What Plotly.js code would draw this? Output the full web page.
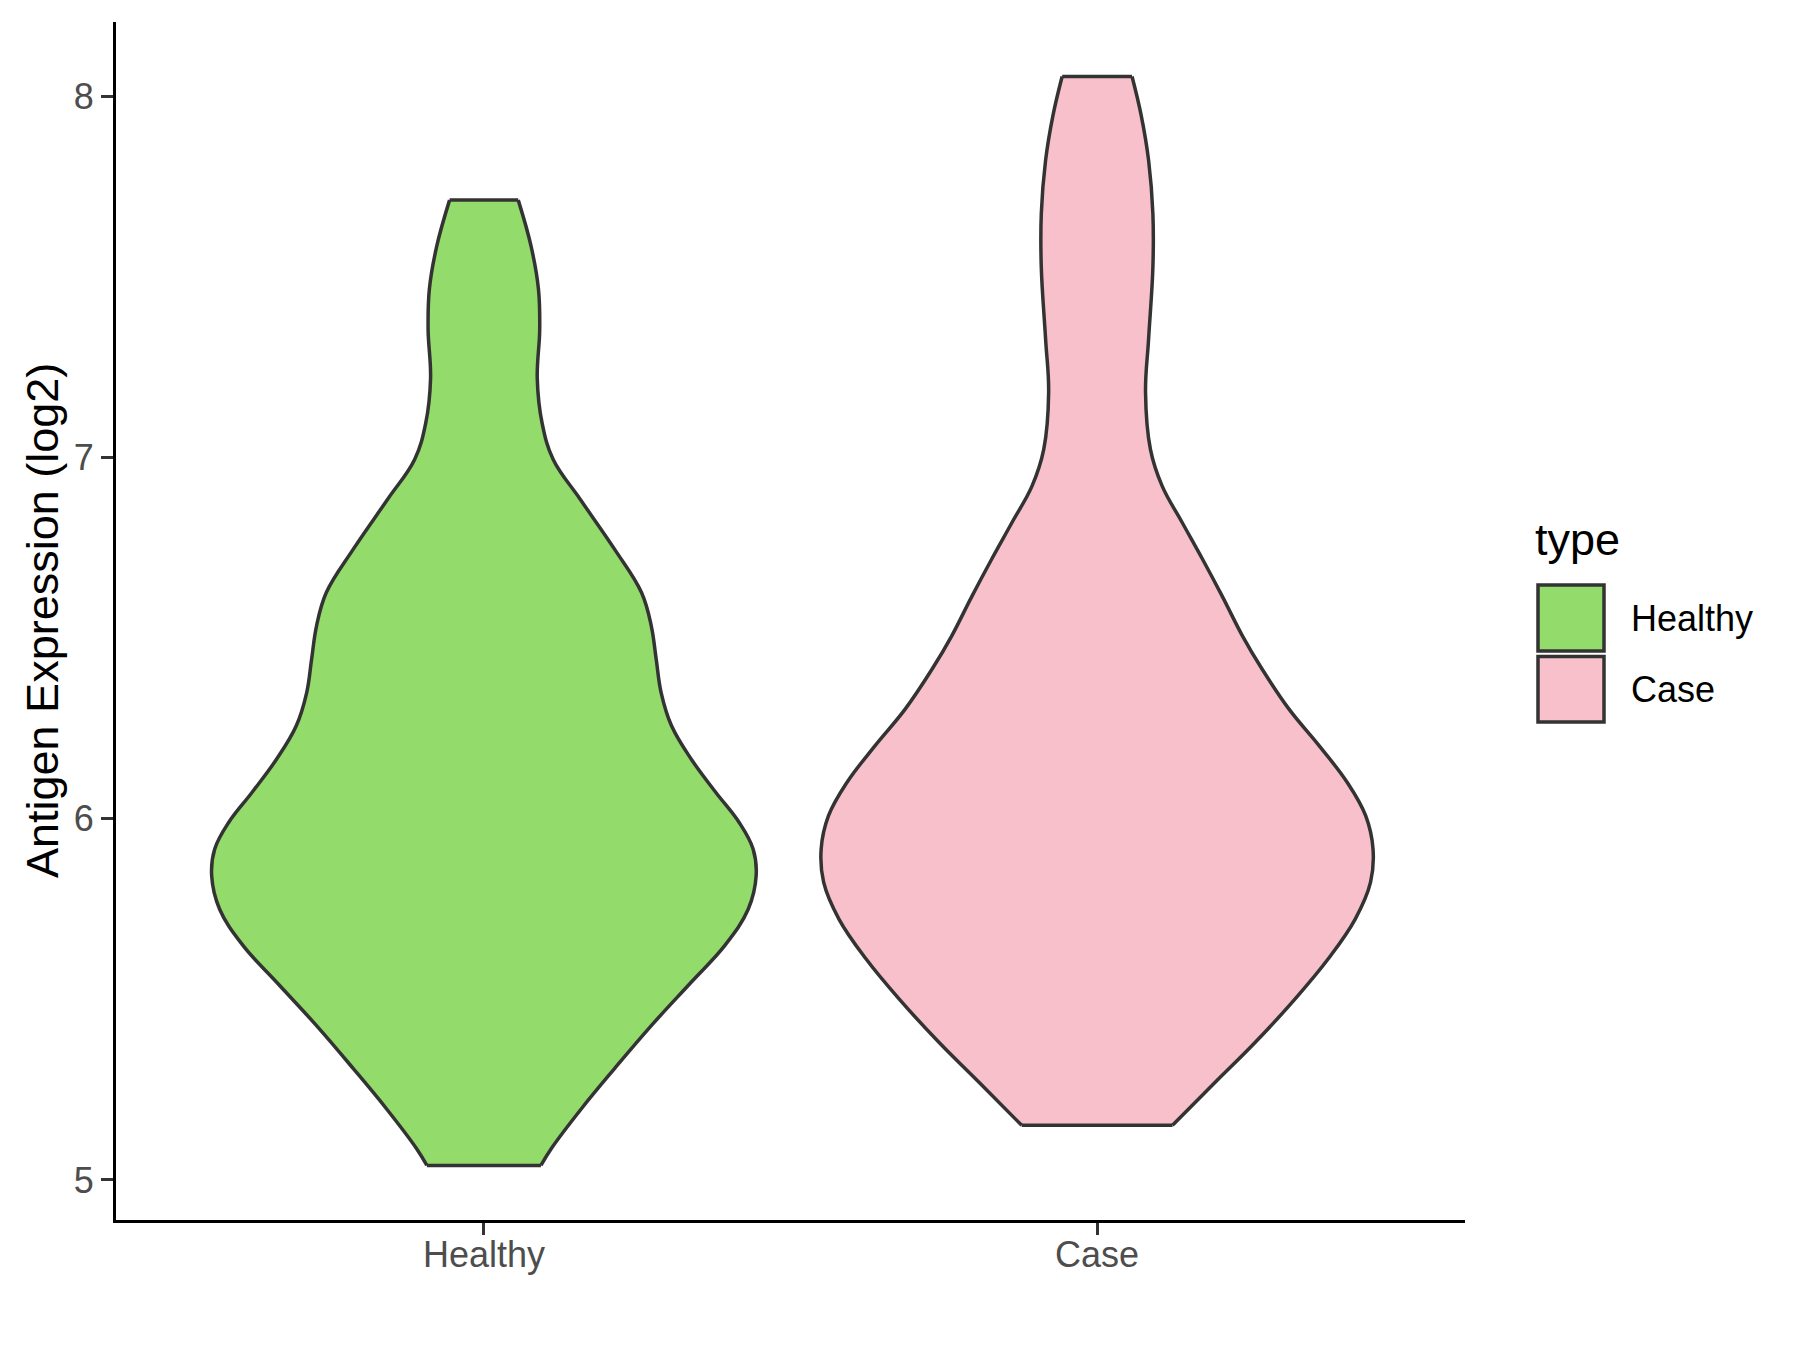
<!DOCTYPE html>
<html>
<head>
<meta charset="utf-8">
<script src="https://cdn.plot.ly/plotly-3.0.1.min.js"></script>
<style>
  html, body { margin: 0; padding: 0; background: #ffffff; }
  #chart { width: 1800px; height: 1350px; }
</style>
</head>
<body>
<div id="chart"></div>
<script>
// ---- data (violin density outlines) ----
const categories = ['Healthy', 'Case'];
const fillColors = ['#93DB6A', '#F7C0CB'];
const legendTitle = 'type';
const yAxisTitle = 'Antigen Expression (log2)';
const yTickValues = [5, 6, 7, 8];

// Healthy: expression levels (bottom -> top) and violin half-widths
const healthyY = [5.040, 5.087, 5.197, 5.308, 5.427, 5.547, 5.649, 5.749, 5.842, 5.916,
                  5.990, 6.073, 6.165, 6.257, 6.349, 6.441, 6.533, 6.626, 6.746, 6.884,
                  6.994, 7.094, 7.218, 7.354, 7.465, 7.584, 7.712];
const healthyHalfWidth = [0.093, 0.110, 0.159, 0.213, 0.273, 0.338, 0.393, 0.431, 0.444, 0.439,
                          0.416, 0.378, 0.338, 0.306, 0.289, 0.281, 0.273, 0.257, 0.213, 0.157,
                          0.113, 0.095, 0.087, 0.091, 0.089, 0.077, 0.056];

// Case: expression levels (bottom -> top) and violin half-widths
const caseY = [5.151, 5.271, 5.381, 5.501, 5.612, 5.722, 5.824, 5.916, 6.008, 6.100,
               6.202, 6.303, 6.414, 6.506, 6.616, 6.718, 6.819, 6.921, 7.022, 7.180,
               7.328, 7.526, 7.674, 7.822, 7.946, 8.054];
const caseHalfWidth = [0.123, 0.193, 0.258, 0.323, 0.377, 0.421, 0.446, 0.450, 0.438, 0.408,
                       0.362, 0.313, 0.269, 0.237, 0.204, 0.172, 0.139, 0.106, 0.087, 0.079,
                       0.084, 0.091, 0.091, 0.084, 0.072, 0.057];

const groupY = [healthyY, caseY];
const groupHalfWidth = [healthyHalfWidth, caseHalfWidth];

// ---- violins: left edge, right edge filled to left edge, flat ends ----
const outline = '#333333';
const lineW = 3.5;
const traces = [];
const endTraces = [];
categories.forEach((name, i) => {
  const center = i + 1;
  const ys = groupY[i], hw = groupHalfWidth[i];
  const n = ys.length;
  traces.push({
    type: 'scatter', mode: 'lines', name: name, showlegend: false, hoverinfo: 'skip',
    x: hw.map(w => center - w), y: ys,
    line: { color: outline, width: lineW, shape: 'spline', smoothing: 1.1 }
  });
  traces.push({
    type: 'scatter', mode: 'lines', name: name, showlegend: false, hoverinfo: 'skip',
    x: hw.map(w => center + w), y: ys, fill: 'tonextx', fillcolor: fillColors[i],
    line: { color: outline, width: lineW, shape: 'spline', smoothing: 1.1 }
  });
  endTraces.push({
    type: 'scatter', mode: 'lines', name: name, showlegend: false, hoverinfo: 'skip',
    x: [center - hw[0], center + hw[0], null, center - hw[n - 1], center + hw[n - 1]],
    y: [ys[0], ys[0], null, ys[n - 1], ys[n - 1]],
    line: { color: outline, width: lineW }
  });
});
const allTraces = traces.concat(endTraces);

// ---- plot area geometry (pixels) used to place the hand-made legend ----
const W = 1800, H = 1350;
const mL = 116, mR = 335, mT = 22, mB = 130;
const plotW = W - mL - mR, plotH = H - mT - mB;
const px = v => (v - mL) / plotW;
const py = v => (H - mB - v) / plotH;

const legendBoxes = [[585, 651], [656.5, 722]];
const shapes = categories.map((c, i) => ({
  type: 'rect', xref: 'paper', yref: 'paper',
  x0: px(1538), x1: px(1604), y0: py(legendBoxes[i][1]), y1: py(legendBoxes[i][0]),
  fillcolor: fillColors[i], line: { color: outline, width: 3.5 }
}));

const fontFam = 'Liberation Sans, Arial, sans-serif';
const annotations = [
  { xref: 'paper', yref: 'paper', x: px(42), y: 0.5, text: yAxisTitle, textangle: -90,
    showarrow: false, xanchor: 'center', yanchor: 'middle',
    font: { family: fontFam, size: 45, color: '#000000' } },
  { xref: 'paper', yref: 'paper', x: px(1533), y: py(539), text: legendTitle,
    showarrow: false, xanchor: 'left', yanchor: 'middle',
    font: { family: fontFam, size: 45, color: '#000000' } }
].concat(categories.map((c, i) => ({
  xref: 'paper', yref: 'paper', x: px(1629), y: py((legendBoxes[i][0] + legendBoxes[i][1]) / 2),
  text: c, showarrow: false, xanchor: 'left', yanchor: 'middle',
  font: { family: fontFam, size: 36, color: '#000000' }
})));

const axisCommon = {
  showgrid: false, zeroline: false, showline: true, linecolor: '#000000', linewidth: 3,
  ticks: 'outside', ticklen: 12, tickwidth: 3, tickcolor: '#333333',
  tickfont: { family: fontFam, size: 36, color: '#4D4D4D' }
};

const layout = {
  width: W, height: H,
  margin: { l: mL, r: mR, t: mT, b: mB, pad: 0 },
  paper_bgcolor: '#ffffff', plot_bgcolor: '#ffffff',
  showlegend: false,
  xaxis: Object.assign({}, axisCommon, {
    range: [0.4, 2.6], tickvals: categories.map((c, i) => i + 1), ticktext: categories,
    ticklabelstandoff: -11
  }),
  yaxis: Object.assign({}, axisCommon, {
    range: [4.889, 8.205], tickvals: yTickValues, ticktext: yTickValues.map(String)
  }),
  shapes: shapes,
  annotations: annotations
};

Plotly.newPlot('chart', allTraces, layout, { displayModeBar: false, staticPlot: true });
</script>
</body>
</html>
